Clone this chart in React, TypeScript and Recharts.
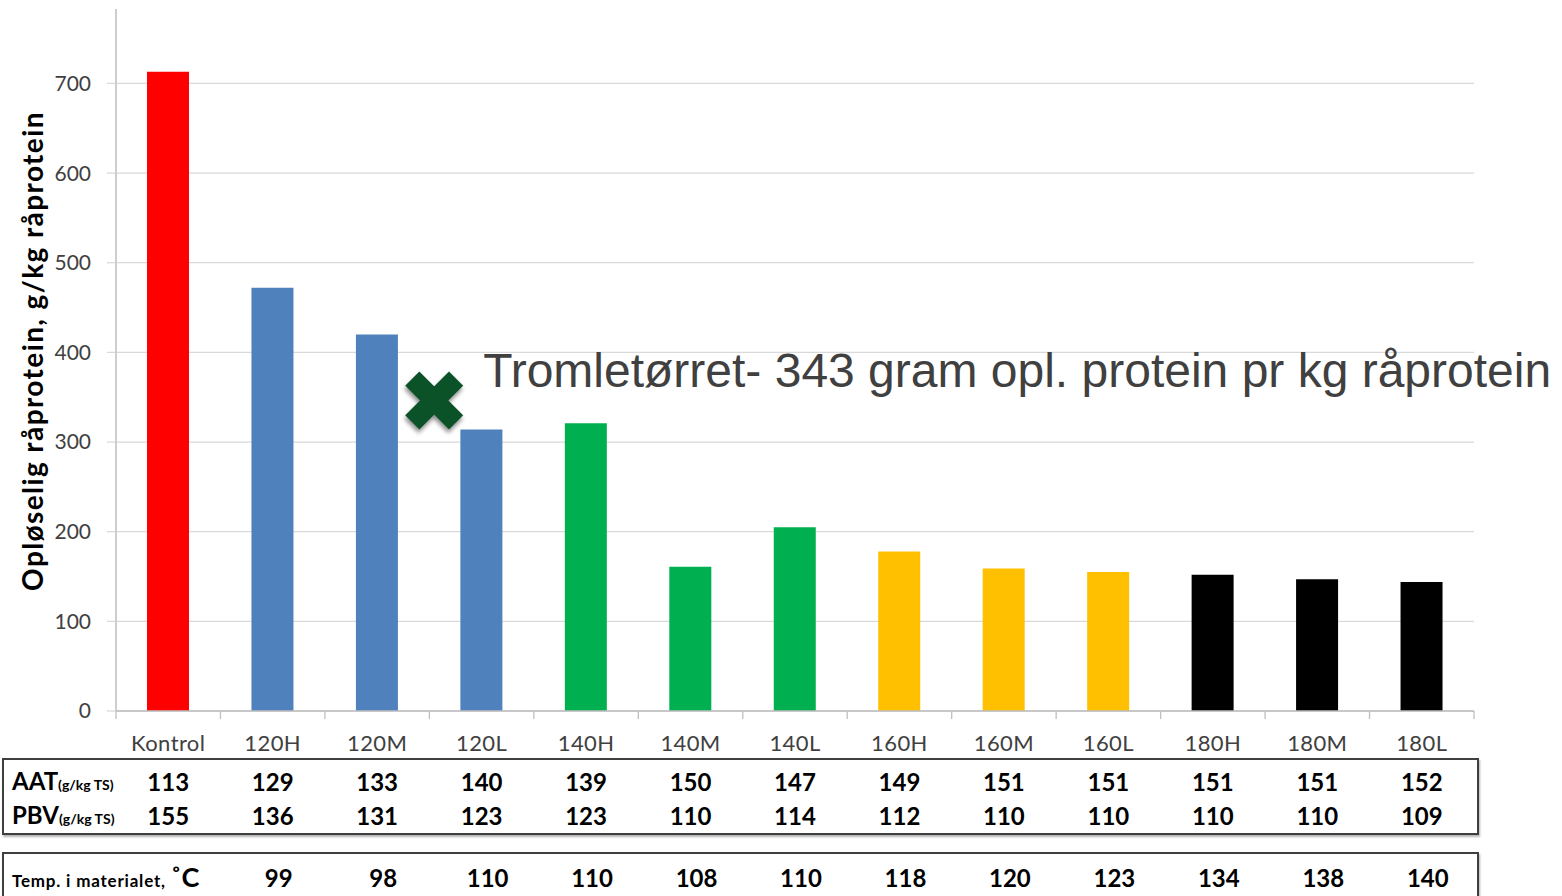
import React from 'react';
import { BarChart, Bar, XAxis, YAxis, CartesianGrid, Cell, ReferenceDot } from 'recharts';

const categories = ['Kontrol', '120H', '120M', '120L', '140H', '140M', '140L', '160H', '160M', '160L', '180H', '180M', '180L'];
const solubleProtein = [713, 472, 420, 314, 321, 161, 205, 178, 159, 155, 152, 147, 144];
const barColors = ['#FF0000', '#4F81BD', '#4F81BD', '#4F81BD', '#00B050', '#00B050', '#00B050', '#FFC000', '#FFC000', '#FFC000', '#000000', '#000000', '#000000'];
const aatValues = [113, 129, 133, 140, 139, 150, 147, 149, 151, 151, 151, 151, 152];
const pbvValues = [155, 136, 131, 123, 123, 110, 114, 112, 110, 110, 110, 110, 109];
const tempValues: (number | null)[] = [null, 99, 98, 110, 110, 108, 110, 118, 120, 123, 134, 138, 140];
const yTicks = [0, 100, 200, 300, 400, 500, 600, 700];
const drumDriedValue = 343;
const drumDriedCategory = '120M';
const annotationText = 'Tromletørret- 343 gram opl. protein pr kg råprotein';
const yLabel = 'Opløselig råprotein, g/kg råprotein';

const data = categories.map((name, i) => ({ name, value: solubleProtein[i] }));

const CALIBRI = 'Lato, "Open Sans", sans-serif';

const CategoryTick = (props: any) => {
  const { x, y, payload } = props;
  const index = payload.index ?? props.index;
  const half = payload.offset ?? 0;
  const t = tempValues[index];
  const last = index === categories.length - 1;
  return (
    <g>
      <line x1={x - half} x2={x - half} y1={y} y2={y + 8} stroke="#bfbfbf" strokeWidth={1.3} />
      {last && <line x1={x + half} x2={x + half} y1={y} y2={y + 8} stroke="#bfbfbf" strokeWidth={1.3} />}
      <text x={x} y={y + 31} textAnchor="middle" dominantBaseline="central" fill="#404040" fontSize={22} letterSpacing={0.4} fontFamily={CALIBRI}>
        {payload.value}
      </text>
      <text x={x} y={y + 70} textAnchor="middle" dominantBaseline="central" fill="#000" fontSize={24} fontWeight={700} fontFamily={CALIBRI}>
        {aatValues[index]}
      </text>
      <text x={x} y={y + 104} textAnchor="middle" dominantBaseline="central" fill="#000" fontSize={24} fontWeight={700} fontFamily={CALIBRI}>
        {pbvValues[index]}
      </text>
      {t !== null && t !== undefined && (
        <text x={x + 6} y={y + 166} textAnchor="middle" dominantBaseline="central" fill="#000" fontSize={24} fontWeight={700} fontFamily={CALIBRI}>
          {t}
        </text>
      )}
    </g>
  );
};

const DrumDriedMarker = (props: any) => {
  const { cx, cy } = props;
  const mx = cx + 57;
  const my = cy - 3;
  const h = 31;
  const w = 10;
  const d = `M ${-w} ${-h} L ${w} ${-h} L ${w} ${-w} L ${h} ${-w} L ${h} ${w} L ${w} ${w} L ${w} ${h} L ${-w} ${h} L ${-w} ${w} L ${-h} ${w} L ${-h} ${-w} L ${-w} ${-w} Z`;
  return (
    <g>
      <path
        d={d}
        transform={`translate(${mx},${my}) rotate(45)`}
        fill="#0B5229"
        style={{ filter: 'drop-shadow(2px 3px 2px rgba(0,0,0,0.45))' }}
      />
      <text x={cx + 106} y={cy - 16} fill="#404040" fontSize={48} fontFamily='"Liberation Sans", Arial, sans-serif'>
        {annotationText}
      </text>
    </g>
  );
};

export default function App() {
  return (
    <div style={{ position: 'absolute', left: 0, top: 0, width: 1562, height: 896, overflow: 'hidden', background: '#fff' }}>
      <div style={{ position: 'absolute', left: 2, top: 758, width: 1473, height: 73, border: '2px solid #3f3f3f', boxShadow: '1px 2px 2px rgba(0,0,0,0.3)' }} />
      <div style={{ position: 'absolute', left: 2, top: 852, width: 1473, height: 80, border: '2px solid #3f3f3f', boxShadow: '1px 2px 2px rgba(0,0,0,0.3)' }} />
      <div style={{ position: 'absolute', left: 12, top: 781, transform: 'translateY(-50%)', fontFamily: CALIBRI, fontWeight: 700, color: '#000', whiteSpace: 'nowrap', lineHeight: 1 }}>
        <span style={{ fontSize: 24 }}>AAT</span>
        <span style={{ fontSize: 14 }}>(g/kg TS)</span>
      </div>
      <div style={{ position: 'absolute', left: 12, top: 815, transform: 'translateY(-50%)', fontFamily: CALIBRI, fontWeight: 700, color: '#000', whiteSpace: 'nowrap', lineHeight: 1 }}>
        <span style={{ fontSize: 24 }}>PBV</span>
        <span style={{ fontSize: 14 }}>(g/kg TS)</span>
      </div>
      <div style={{ position: 'absolute', left: 12, top: 876, transform: 'translateY(-50%)', fontFamily: CALIBRI, fontWeight: 700, color: '#000', whiteSpace: 'nowrap', lineHeight: 1 }}>
        <span style={{ fontSize: 17, letterSpacing: 0.8 }}>Temp. i materialet, </span>
        <span style={{ fontSize: 27 }}>˚C</span>
      </div>
      <div style={{ position: 'absolute', left: 32, top: 351, transform: 'translate(-50%,-50%) rotate(-90deg)', fontFamily: CALIBRI, fontWeight: 700, fontSize: 28, letterSpacing: 1.4, color: '#000', whiteSpace: 'nowrap', lineHeight: 1 }}>
        {yLabel}
      </div>
      <div style={{ position: 'absolute', left: 0, top: 0 }}>
        <BarChart width={1562} height={896} data={data} margin={{ top: 9, right: 88, bottom: 5, left: 56 }}>
          <CartesianGrid vertical={false} horizontalValues={yTicks} stroke="#d9d9d9" strokeWidth={1.3} />
          <XAxis
            dataKey="name"
            height={180}
            tickSize={0}
            tickMargin={0}
            axisLine={{ stroke: '#bfbfbf', strokeWidth: 1.3 }}
            tickLine={false}
            interval={0}
            tick={<CategoryTick />}
          />
          <YAxis
            width={60}
            domain={[0, 783]}
            ticks={yTicks}
            tickSize={9}
            tickMargin={16}
            axisLine={{ stroke: '#b3b3b3', strokeWidth: 1.3 }}
            tickLine={{ stroke: '#d9d9d9', strokeWidth: 1.3 }}
            tick={{ fill: '#404040', fontSize: 21, fontFamily: CALIBRI }}
            allowDataOverflow
          />
          <YAxis
            yAxisId="right"
            orientation="right"
            width={0}
            domain={[0, 783]}
            tick={false}
            tickLine={false}
            axisLine={{ stroke: '#a6a6a6', strokeWidth: 1.5 }}
          />
          <Bar dataKey="value" barSize={42} isAnimationActive={false}>
            {data.map((d, i) => (
              <Cell key={d.name} fill={barColors[i]} />
            ))}
          </Bar>
          <ReferenceDot x={drumDriedCategory} y={drumDriedValue} r={10} shape={<DrumDriedMarker />} />
        </BarChart>
      </div>
    </div>
  );
}
